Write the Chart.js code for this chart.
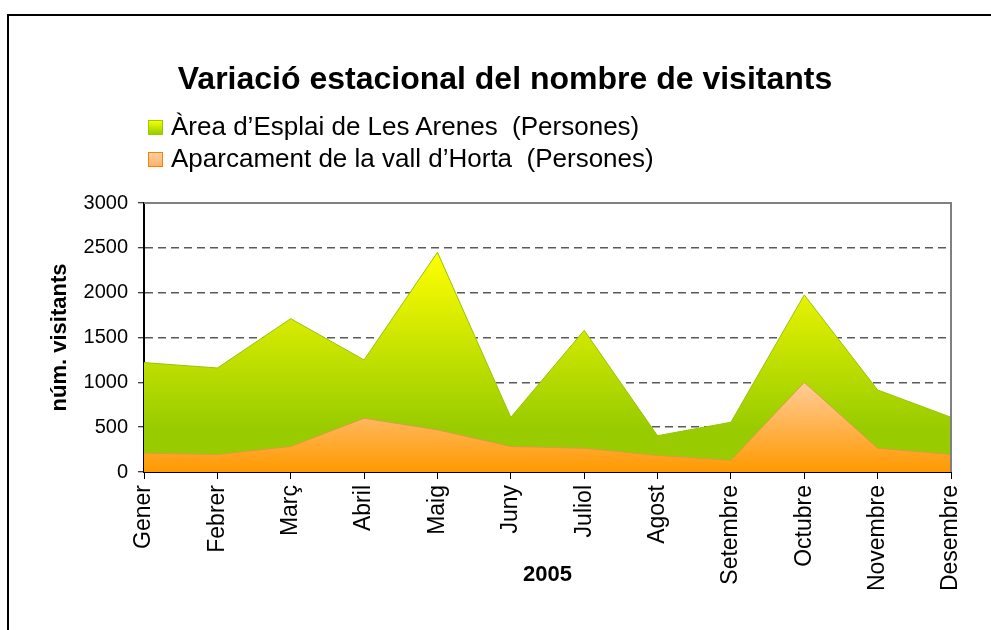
<!DOCTYPE html>
<html lang="ca">
<head>
<meta charset="utf-8">
<title>Variació estacional del nombre de visitants</title>
<script src="https://cdn.jsdelivr.net/npm/chart.js@4.4.1/dist/chart.umd.min.js"></script>
<style>
  html, body { margin: 0; padding: 0; background: #fff; overflow: hidden; }
  #wrap { position: relative; width: 991px; height: 630px; font-family: 'Liberation Sans', Arial, sans-serif; }
  #frame { position: absolute; left: 7px; top: 14px; width: 991px; height: 630px;
           border-top: 2px solid #000; border-left: 2px solid #000; box-sizing: border-box; }
  #title { position: absolute; left: 0; width: 1010px; top: 58px; text-align: center;
           font-weight: bold; font-size: 32px; line-height: 40px; color: #000; }
  .leg { position: absolute; left: 148px; height: 30px; line-height: 30px; font-size: 26px;
         color: #000; white-space: pre; display: flex; align-items: center; }
  .leg .box { width: 13px; height: 13px; margin-right: 8px; margin-top: 3px; }
  #leg1 { top: 111px; }
  #leg2 { top: 143px; }
  #leg1 .box { background: linear-gradient(#f4ff00, #99cc00); border: 1px solid #99cc00; }
  #leg2 .box { background: linear-gradient(#ffd0a0, #ffb070); border: 1px solid #ff8000; }
  #chartBox { position: absolute; left: 0; top: 0; width: 991px; height: 630px; }
</style>
</head>
<body>
<div id="wrap">
  <div id="chartBox"><canvas id="areaChart"></canvas></div>
  <div id="frame"></div>
  <div id="title">Variació estacional del nombre de visitants</div>
  <div class="leg" id="leg1"><span class="box"></span><span>Àrea d’Esplai de Les Arenes  (Persones)</span></div>
  <div class="leg" id="leg2"><span class="box"></span><span>Aparcament de la vall d’Horta  (Persones)</span></div>
</div>
<script>
// months of 2005
const months = ['Gener', 'Febrer', 'Març', 'Abril', 'Maig', 'Juny', 'Juliol', 'Agost', 'Setembre', 'Octubre', 'Novembre', 'Desembre'];
// visitors per month
const arenes = [1220, 1160, 1710, 1250, 2450, 610, 1580, 405, 555, 1975, 915, 610];
const horta = [210, 195, 285, 600, 470, 285, 265, 185, 130, 1000, 265, 195];
// y axis tick values
const yTicks = [0, 500, 1000, 1500, 2000, 2500, 3000];

const fontFamily = "'Liberation Sans', Arial, sans-serif";

// vertical gradient between two values of the y scale
function vGradient(chart, topValue, bottomValue, topColor, bottomColor) {
    const y = chart.scales.y;
    if (!chart.chartArea || !y) return bottomColor;
    const g = chart.ctx.createLinearGradient(0, y.getPixelForValue(topValue), 0, y.getPixelForValue(bottomValue));
    g.addColorStop(0, topColor);
    g.addColorStop(1, bottomColor);
    return g;
}

// gray border on top and right of the plot area (like Excel)
const plotBorder = {
    id: 'plotBorder',
    afterDatasetsDraw(chart) {
        const {ctx, chartArea: a} = chart;
        ctx.save();
        ctx.strokeStyle = '#808080';
        ctx.lineWidth = 2;
        ctx.beginPath();
        ctx.moveTo(a.left, a.top);
        ctx.lineTo(a.right, a.top);
        ctx.lineTo(a.right, a.bottom);
        ctx.stroke();
        ctx.restore();
    }
};

const ctx = document.getElementById('areaChart').getContext('2d');
const areaChart = new Chart(ctx, {
    type: 'line',
    data: {
        labels: months,
        datasets: [{
            label: 'Àrea d’Esplai de Les Arenes  (Persones)',
            data: arenes,
            fill: 'origin',
            order: 1, // drawn behind
            backgroundColor: c => vGradient(c.chart, Math.max(...arenes), 500, '#ffff00', '#99cc00'),
            borderColor: '#99c400',
            borderWidth: 1,
            pointRadius: 0,
            tension: 0
        }, {
            label: 'Aparcament de la vall d’Horta  (Persones)',
            data: horta,
            fill: 'origin',
            order: 0, // drawn in front
            backgroundColor: c => vGradient(c.chart, Math.max(...horta), 0, '#ffcc99', '#ff9900'),
            borderColor: '#d2a040',
            borderWidth: 1,
            pointRadius: 0,
            tension: 0
        }]
    },
    options: {
        responsive: true,
        maintainAspectRatio: false,
        animation: false,
        layout: {
            padding: { top: 203, right: 40, bottom: 28, left: 0 }
        },
        plugins: {
            legend: { display: false },
            title: { display: false },
            tooltip: { enabled: false }
        },
        scales: {
            x: {
                offset: false,
                grid: {
                    drawOnChartArea: false,
                    drawTicks: true,
                    tickLength: 7,
                    tickColor: '#000',
                    tickWidth: 1,
                    color: '#000'
                },
                border: { color: '#000', width: 2 },
                ticks: {
                    color: '#000',
                    font: { family: fontFamily, size: 23 },
                    minRotation: 90,
                    maxRotation: 90,
                    autoSkip: false,
                    padding: 6
                },
                title: {
                    display: true,
                    text: '2005',
                    color: '#000',
                    font: { family: fontFamily, size: 22, weight: 'bold' },
                    padding: { top: 0, bottom: 14 }
                },
                afterFit(scale) { scale.height = 130; }
            },
            y: {
                min: 0,
                max: 3000,
                afterBuildTicks(scale) { scale.ticks = yTicks.map(v => ({ value: v })); },
                grid: {
                    color: c => (c.tick && (c.tick.value === 0 || c.tick.value === 3000)) ? 'rgba(0,0,0,0)' : '#5a5a5a',
                    lineWidth: 1.5,
                    tickLength: 6,
                    tickColor: '#000',
                    tickWidth: 1
                },
                border: { color: '#000', width: 2, dash: [8, 5] },
                ticks: {
                    color: '#000',
                    font: { family: fontFamily, size: 20 },
                    padding: 10,
                    callback: v => String(v) // no thousands separator
                },
                title: {
                    display: true,
                    text: 'núm. visitants',
                    color: '#000',
                    font: { family: fontFamily, size: 22, weight: 'bold' },
                    padding: { top: 47, bottom: 0 }
                },
                afterFit(scale) { scale.width = 144; }
            }
        }
    },
    plugins: [plotBorder]
});
</script>
</body>
</html>
